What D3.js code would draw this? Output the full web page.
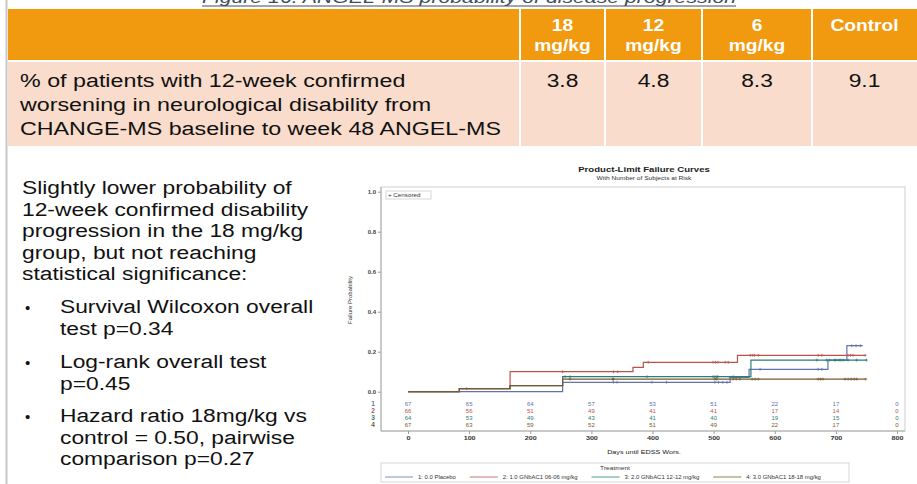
<!DOCTYPE html>
<html>
<head>
<meta charset="utf-8">
<script src="https://cdn.jsdelivr.net/npm/d3@7"></script>
<style>
  body { margin: 0; background: #fff; }
  svg { display: block; font-family: "Liberation Sans", Arial, sans-serif; }
</style>
</head>
<body>
<div id="chart"></div>
<script>
// table data
const doseGroups = ['18|mg/kg', '12|mg/kg', '6|mg/kg', 'Control'];
const pctWorsening = [3.8, 4.8, 8.3, 9.1];
const rowLabel = ['% of patients with 12-week confirmed', 'worsening in neurological disability from', 'CHANGE-MS baseline to week 48 ANGEL-MS'];

const introLines = ['Slightly lower probability of', '12-week confirmed disability', 'progression in the 18 mg/kg', 'group, but not reaching', 'statistical significance:'];
const bullets = [
  ['Survival Wilcoxon overall', 'test p=0.34'],
  ['Log-rank overall test', 'p=0.45'],
  ['Hazard ratio 18mg/kg vs', 'control = 0.50, pairwise', 'comparison p=0.27']
];

// KM failure curves (day, failure probability)
const treatments = ['1: 0.0 Placebo', '2: 1.0 GNbAC1 06-06 mg/kg', '3: 2.0 GNbAC1 12-12 mg/kg', '4: 3.0 GNbAC1 18-18 mg/kg'];
const colors = ['#6172ad', '#b8544a', '#2a7f75', '#7a5a2c'];
const placebo = [[0, 0], [253, 0.047], [527, 0.072], [558, 0.112], [687, 0.158], [718, 0.23], [744, 0.23]];
const dose06 = [[0, 0], [84, 0.015], [167, 0.10], [368, 0.122], [385, 0.147], [539, 0.182], [748, 0.182]];
const dose12 = [[0, 0], [84, 0.015], [167, 0.03], [253, 0.075], [561, 0.158], [750, 0.158]];
const dose18 = [[0, 0], [84, 0.015], [167, 0.03], [253, 0.063], [749, 0.063]];
const curves = [placebo, dose06, dose12, dose18];

// censored times
const censPlacebo = [336, 342, 399, 423, 502, 508, 515, 522, 527, 576, 671, 677, 690, 700, 708, 726, 733, 740];
const cens06 = [96, 253, 336, 343, 393, 499, 503, 507, 519, 524, 560, 564, 567, 573, 671, 677, 720, 724, 728, 748];
const cens12 = [257, 265, 391, 499, 502, 505, 507, 532, 669, 685, 698, 705, 712, 720, 734, 750];
const cens18 = [265, 335, 336, 502, 505, 532, 537, 543, 563, 568, 573, 671, 675, 679, 715, 720, 725, 730, 734, 749];
const censored = [censPlacebo, cens06, cens12, cens18];

// numbers at risk
const riskDays = [0, 100, 200, 300, 400, 500, 600, 700, 800];
const atRisk = [
  [67, 65, 64, 57, 53, 51, 22, 17, 0],
  [66, 56, 51, 49, 41, 41, 17, 14, 0],
  [64, 53, 49, 43, 41, 40, 19, 15, 0],
  [67, 63, 59, 52, 51, 49, 22, 17, 0]
];
const yTicks = [0, 0.2, 0.4, 0.6, 0.8, 1.0];
const xTicks = [0, 100, 200, 300, 400, 500, 600, 700, 800];

const W = 917, H = 484;
const SX = 1.2; // the slide text is stretched wider
const svg = d3.select('#chart').append('svg').attr('width', W).attr('height', H);

// text drawn at (x,y), stretched horizontally
function wideText(parent, x, y, str, size, sx) {
  return parent.append('text')
    .attr('transform', `translate(${x},${y}) scale(${sx || SX},1)`)
    .attr('font-size', size).text(str);
}

// page frame line
svg.append('line').attr('x1', 6.5).attr('x2', 6.5).attr('y1', 0).attr('y2', H)
  .attr('stroke', '#c8c8c8').attr('stroke-width', 2);

// caption (cut at the top)
const cap = wideText(svg, 469, 3, 'Figure 16: ANGEL-MS probability of disease progression', 17, 1.25)
  .attr('text-anchor', 'middle').attr('font-style', 'italic').attr('fill', '#3f4d60');
const capW = cap.node().getComputedTextLength() * 1.25;
svg.append('line').attr('x1', 469 - capW / 2).attr('x2', 469 + capW / 2)
  .attr('y1', 6).attr('y2', 6).attr('stroke', '#3f4d60').attr('stroke-width', 1.2);

// table
const colEdges = [8, 520, 605, 702, 812, 917];
const headTop = 9, headBot = 61, rowBot = 146;
svg.append('rect').attr('x', 8).attr('y', headTop).attr('width', W - 8).attr('height', headBot - headTop).attr('fill', '#f29a0f');
svg.append('rect').attr('x', 8).attr('y', headBot).attr('width', W - 8).attr('height', rowBot - headBot).attr('fill', '#f9dccb');
svg.append('line').attr('x1', 8).attr('x2', W).attr('y1', headBot).attr('y2', headBot).attr('stroke', '#fff').attr('stroke-width', 2);
colEdges.slice(1, 5).forEach(x => {
  svg.append('line').attr('x1', x).attr('x2', x).attr('y1', headTop).attr('y2', rowBot).attr('stroke', '#fff').attr('stroke-width', 2);
});

doseGroups.forEach((g, i) => {
  const cx = (colEdges[i + 1] + colEdges[i + 2]) / 2;
  g.split('|').forEach((p, j) => {
    wideText(svg, cx, 31 + j * 20, p, 16).attr('text-anchor', 'middle')
      .attr('font-weight', 'bold').attr('fill', '#fff');
  });
  wideText(svg, cx, 87, pctWorsening[i].toFixed(1), 19).attr('text-anchor', 'middle').attr('fill', '#111');
});
rowLabel.forEach((t, j) => {
  wideText(svg, 20, 87 + j * 24, t, 19, 1.225).attr('fill', '#111');
});

// left text block
introLines.forEach((t, j) => {
  wideText(svg, 22, 194 + j * 21.5, t, 19).attr('fill', '#111');
});
const bulletStart = [313, 368, 422];
bullets.forEach((b, i) => {
  svg.append('text').attr('x', 25).attr('y', bulletStart[i]).attr('font-size', 15).attr('fill', '#111').text('•');
  b.forEach((t, j) => {
    wideText(svg, 60, bulletStart[i] + j * 21.5, t, 19).attr('fill', '#111');
  });
});

// ---- KM chart ----
const frame = { left: 381, right: 905, top: 187, bottom: 431 };
const x = d3.scaleLinear().domain([0, 800]).range([408, 897]);
const y = d3.scaleLinear().domain([0, 1]).range([391.7, 191.7]);

const g = svg.append('g');
wideText(g, 644, 172, 'Product-Limit Failure Curves', 8).attr('text-anchor', 'middle')
  .attr('font-weight', 'bold').attr('fill', '#222');
wideText(g, 644, 179.5, 'With Number of Subjects at Risk', 5.5).attr('text-anchor', 'middle').attr('fill', '#333');

// frame
g.append('rect').attr('x', frame.left).attr('y', frame.top)
  .attr('width', frame.right - frame.left).attr('height', frame.bottom - frame.top)
  .attr('fill', 'none').attr('stroke', '#cfcfcf').attr('stroke-width', 1);

// y axis
const yAxis = g.append('g').attr('transform', `translate(${frame.left},0)`)
  .call(d3.axisLeft(y).tickValues(yTicks).tickFormat(d3.format('.1f')).tickSize(3).tickPadding(2));
yAxis.select('.domain').remove();
yAxis.selectAll('line').attr('stroke', '#999');
yAxis.selectAll('text').attr('font-size', 6).attr('font-weight', 'bold').attr('fill', '#444');
g.append('line').attr('x1', frame.left).attr('x2', frame.left).attr('y1', frame.top).attr('y2', frame.bottom)
  .attr('stroke', '#aaa');

g.append('text').attr('transform', `translate(352,300) rotate(-90)`).attr('text-anchor', 'middle')
  .attr('font-size', 6).attr('fill', '#333').text('Failure Probability');

// x axis
const xAxis = g.append('g').attr('transform', `translate(0,${frame.bottom})`)
  .call(d3.axisBottom(x).tickValues(xTicks).tickSize(3).tickPadding(2));
xAxis.select('.domain').remove();
xAxis.selectAll('line').attr('stroke', '#999');
xAxis.selectAll('text').attr('font-size', 6).attr('font-weight', 'bold').attr('fill', '#333')
  .attr('transform', `scale(${SX},1)`).attr('x', 0);
g.append('line').attr('x1', frame.left).attr('x2', frame.right).attr('y1', frame.bottom).attr('y2', frame.bottom)
  .attr('stroke', '#aaa');
wideText(g, 644, 454, 'Days until EDSS Wors.', 6).attr('text-anchor', 'middle').attr('fill', '#222');

// censored legend box
g.append('rect').attr('x', 386).attr('y', 191).attr('width', 45).attr('height', 8)
  .attr('fill', '#fff').attr('stroke', '#bbb').attr('stroke-width', 0.6);
wideText(g, 388, 197, '+ Censored', 5.2).attr('fill', '#333');

// curves
const stepLine = d3.line().x(d => x(d[0])).y(d => y(d[1])).curve(d3.curveStepAfter);
const valueAt = (curve, t) => {
  let v = 0;
  curve.forEach(p => { if (p[0] <= t) v = p[1]; });
  return v;
};
curves.forEach((c, i) => {
  g.append('path').datum(c).attr('d', stepLine)
    .attr('fill', 'none').attr('stroke', colors[i]).attr('stroke-width', 1.2);
  g.selectAll(null).data(censored[i]).enter().append('path')
    .attr('d', t => {
      const cx = x(t), cy = y(valueAt(c, t));
      return `M${cx - 1.5},${cy}H${cx + 1.5}M${cx},${cy - 1.5}V${cy + 1.5}`;
    })
    .attr('stroke', colors[i]).attr('stroke-width', 0.7);
});

// numbers at risk
const riskY = [403.5, 410.5, 417.5, 424.5];
atRisk.forEach((row, i) => {
  g.append('text').attr('x', 373).attr('y', riskY[i] + 2).attr('text-anchor', 'middle')
    .attr('font-size', 6.5).attr('font-weight', 'bold').attr('fill', colors[i]).text(i + 1);
  row.forEach((d, j) => {
    wideText(g, x(riskDays[j]), riskY[i] + 2, d, 5).attr('text-anchor', 'middle').attr('fill', colors[i]);
  });
});

// treatment legend
g.append('rect').attr('x', 381).attr('y', 463).attr('width', 468).attr('height', 19)
  .attr('fill', '#fff').attr('stroke', '#ccc').attr('stroke-width', 0.8);
wideText(g, 615, 470, 'Treatment', 5.5).attr('text-anchor', 'middle').attr('fill', '#333');
let lx = 385;
treatments.forEach((t, i) => {
  g.append('line').attr('x1', lx).attr('x2', lx + 28).attr('y1', 477).attr('y2', 477)
    .attr('stroke', colors[i]).attr('stroke-width', 0.8);
  const tx = wideText(g, lx + 33, 479, t, 5.4, 1.1).attr('fill', '#333');
  lx += 33 + tx.node().getComputedTextLength() * 1.1 + 14;
});
</script>
</body>
</html>
